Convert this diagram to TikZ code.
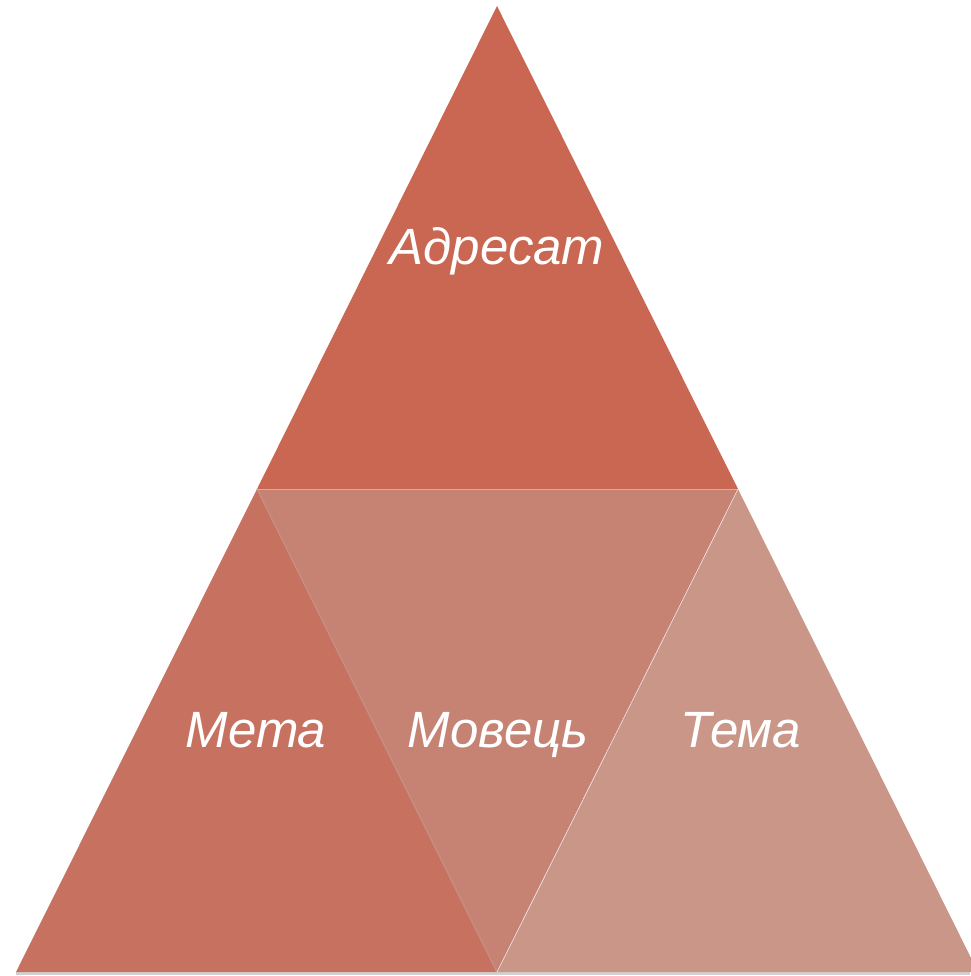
\documentclass[tikz,border=0pt]{standalone}
\usepackage{fontspec}
\setmainfont{Liberation Sans}
\definecolor{ctop}{HTML}{C96752}
\definecolor{cleft}{HTML}{C77260}
\definecolor{cmid}{HTML}{C68373}
\definecolor{cright}{HTML}{C99688}
\definecolor{cshadow}{HTML}{B06050}
\tikzset{
  tri/.style={draw=none},
  lbl/.style={text=white, font=\fontsize{51}{56}\selectfont\itshape, inner sep=0pt, anchor=base},
}
\begin{document}
\begin{tikzpicture}[x=1pt,y=-1pt]
\useasboundingbox (0,0) rectangle (970,976);
\coordinate (apex) at (497,6);
\coordinate (ml) at (257,489);
\coordinate (mr) at (738,489);
\coordinate (bl) at (16,972);
\coordinate (bm) at (497,972);
\coordinate (br) at (978,972);
% shadow
\fill[black!18] (16,972) rectangle (970,975);
\fill[ctop,tri] (apex) -- (mr) -- (ml) -- cycle;
\fill[cleft,tri] (ml) -- (bm) -- (bl) -- cycle;
\fill[cmid,tri] (ml) -- (mr) -- (bm) -- cycle;
\fill[cright,tri] (mr) -- (br) -- (bm) -- cycle;
\draw[cshadow!70, line width=1.2pt] (ml) -- (bm);
\draw[white!80!cmid, line width=0.6pt] (mr) -- (bm);
\draw[white!70!ctop, line width=0.5pt, opacity=0.5] (ml) -- (mr);
\node[lbl] (adr) at (497,264) {Адресат};
\node[lbl] (meta) at (256,747) {Мета};
\node[lbl] (mov) at (498,747) {Мовець};
\node[lbl] (tema) at (741,747) {Тема};
\end{tikzpicture}
\end{document}
